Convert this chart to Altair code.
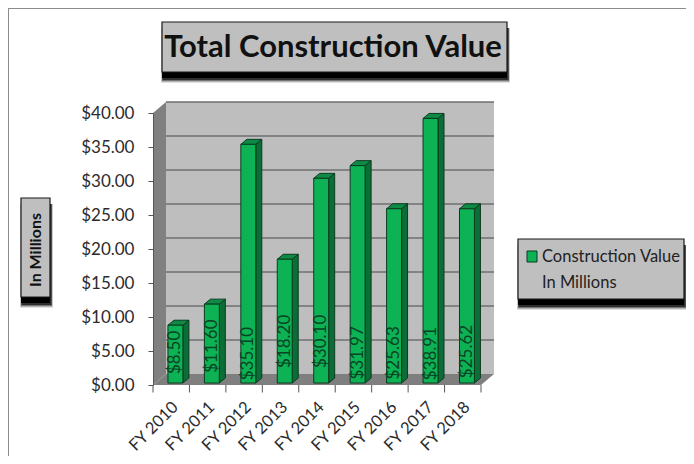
import altair as alt

categories = ["FY 2010", "FY 2011", "FY 2012", "FY 2013", "FY 2014", "FY 2015", "FY 2016", "FY 2017", "FY 2018"]
values = [8.50, 11.60, 35.10, 18.20, 30.10, 31.97, 25.63, 38.91, 25.62]
value_labels = ["$8.50", "$11.60", "$35.10", "$18.20", "$30.10", "$31.97", "$25.63", "$38.91", "$25.62"]
label_starts = [1.6, 1.8, 0.7, 2.5, 2.5, 0.8, 0.8, 0.7, 1.0]
y_ticks = [0, 5, 10, 15, 20, 25, 30, 35, 40]

FONT = "Lato"
W, H = 678, 448
# value-space depth of the 3D box and of each bar
DX, DY = 0.357, 1.62
BX, BW, BDX, BDY, BASE = 0.41, 0.41, 0.165, 0.735, 0.29

xs = alt.Scale(domain=[0, 9], range=[145, 473], nice=False, zero=False)
ys = alt.Scale(domain=[0, 40], range=[377, 105], nice=False, zero=False)


def X(f="x"):
    return alt.X(f"{f}:Q", scale=xs, axis=None)


def Y(f="y", axis=None):
    return alt.Y(f"{f}:Q", scale=ys, axis=axis)


def area(rows, fill, stroke=None, sw=1):
    kw = {"stroke": stroke, "strokeWidth": sw} if stroke else {}
    return alt.Chart(alt.Data(values=rows)).mark_area(
        orient="vertical", fill=fill, opacity=1, interpolate="linear", **kw
    ).encode(x=X(), y=Y(), y2=alt.Y2("y2:Q"), detail="i:N")


def box(x1, x2, y1, y2, fill, stroke=None, opacity=1.0, sw=1):
    kw = {"stroke": stroke, "strokeWidth": sw} if stroke else {}
    return alt.Chart(alt.Data(values=[{"a": 1}])).mark_rect(fill=fill, opacity=opacity, **kw).encode(
        x=alt.value(x1 - 8), x2=alt.value(x2 - 8), y=alt.value(y1 - 8), y2=alt.value(y2 - 8)
    )


def shadow_box(x1, x2, y1, y2, fill="#bfbfbf"):
    out = []
    for grow, op in [(4, 0.12), (3, 0.2), (2, 0.35), (1, 0.6)]:
        out.append(box(x1 + 1 - grow / 2, x2 + 1 + grow / 2, y1 + 6, y2 + 7 + grow, "#000000", opacity=op))
    out.append(box(x1, x2, y1, y2 + 6, "#000000"))
    out.append(box(x1, x2, y1, y2, fill, "#1a1a1a", sw=1.2))
    return out


def label(text, x, y, size, weight="normal", align="left", angle=0, color="#222222"):
    return alt.Chart(alt.Data(values=[{"t": text}])).mark_text(
        font=FONT, fontSize=size, fontWeight=weight, align=align, baseline="middle", angle=angle, color=color
    ).encode(x=alt.value(x - 8), y=alt.value(y - 8), text="t:N")


layers = []

# picture frame
layers.append(alt.Chart(alt.Data(values=[{"a": 1}])).mark_rule(color="#8c8c8c", strokeWidth=1).encode(
    x=alt.value(0.5), y=alt.value(0), y2=alt.value(H)))
layers.append(alt.Chart(alt.Data(values=[{"a": 1}])).mark_rule(color="#8c8c8c", strokeWidth=1).encode(
    x=alt.value(0), x2=alt.value(W), y=alt.value(0.5)))

# side wall, carrying the value axis
side_wall = [
    {"x": 0, "y": 40, "y2": 0},
    {"x": DX, "y": 40 + DY, "y2": DY},
]
y_axis = alt.Axis(
    values=y_ticks, format="$.2f", title=None, grid=False, tickSize=5, tickColor="#555555", domainColor="#555555",
    labelFont=FONT, labelFontSize=17, labelColor="#2b2b2b", labelPadding=14, offset=-145, zindex=1, labelFlush=False,
)
layers.append(
    alt.Chart(alt.Data(values=side_wall)).mark_area(orient="vertical", fill="#808080", opacity=1).encode(
        x=X(), y=Y(axis=y_axis), y2=alt.Y2("y2:Q")
    )
)

# back wall
layers.append(alt.Chart(alt.Data(values=[{"x": DX, "x2": 9 + DX, "y": DY, "y2": 40 + DY}])).mark_rect(fill="#bebebe").encode(
    x=X(), x2=alt.X2("x2:Q"), y=Y(), y2=alt.Y2("y2:Q")))

# gridlines on the back wall
layers.append(alt.Chart(alt.Data(values=[{"x": DX, "x2": 9 + DX, "y": t + DY} for t in y_ticks[1:]])).mark_rule(
    color="#6f6f6f", strokeWidth=1.4).encode(x=X(), x2=alt.X2("x2:Q"), y=Y()))

# floor
floor = [
    {"i": 0, "x": 0, "y": 0, "y2": 0},
    {"i": 0, "x": DX, "y": DY, "y2": 0},
    {"i": 0, "x": 9, "y": DY, "y2": 0},
    {"i": 0, "x": 9 + DX, "y": DY, "y2": DY},
]
layers.append(area(floor, "#7f7f7f"))

# category ticks
layers.append(alt.Chart(alt.Data(values=[{"x": i, "y": 0, "y2": -1.1} for i in range(10)])).mark_rule(
    color="#555555", strokeWidth=1).encode(x=X(), y=Y(), y2=alt.Y2("y2:Q")))

# bars: side face, top face, front face
side_rows, top_rows, front_rows, cat_rows, val_rows = [], [], [], [], []
for i, (c, v, t, s) in enumerate(zip(categories, values, value_labels, label_starts)):
    x1, x2 = i + BX, i + BX + BW
    top = v + BASE
    side_rows += [
        {"i": i, "x": x2, "y": top, "y2": BASE},
        {"i": i, "x": x2 + BDX, "y": top + BDY, "y2": BASE + BDY},
    ]
    top_rows += [
        {"i": i, "x": x1, "y": top, "y2": top},
        {"i": i, "x": x1 + BDX, "y": top + BDY, "y2": top},
        {"i": i, "x": x2, "y": top + BDY, "y2": top},
        {"i": i, "x": x2 + BDX, "y": top + BDY, "y2": top + BDY},
    ]
    front_rows.append({"x": x1, "x2": x2, "y": top, "y2": BASE})
    cat_rows.append({"x": i + 0.62, "y": -2.9, "t": c})
    val_rows.append({"x": i + BX + BW / 2, "y": s, "t": t})

layers.append(area(side_rows, "#0a6e36", "#0b3b20"))
layers.append(area(top_rows, "#0f8a45", "#0b3b20"))
layers.append(alt.Chart(alt.Data(values=front_rows)).mark_rect(fill="#0cb253", stroke="#0b3b20", strokeWidth=1).encode(
    x=X(), x2=alt.X2("x2:Q"), y=Y(), y2=alt.Y2("y2:Q")))

# value labels inside the bars
layers.append(alt.Chart(alt.Data(values=val_rows)).mark_text(
    font=FONT, fontSize=17, angle=270, align="left", baseline="middle", color="#0b4325"
).encode(x=X(), y=Y(), text="t:N"))

# rotated category labels
layers.append(alt.Chart(alt.Data(values=cat_rows)).mark_text(
    font=FONT, fontSize=16.5, angle=315, align="right", baseline="middle", color="#2b2b2b"
).encode(x=X(), y=Y(), text="t:N"))

# title box
layers += shadow_box(162, 507, 22, 72)
layers.append(label("Total Construction Value", 333, 48, 31, weight="bold", align="center", color="#111111"))

# axis caption box
layers += shadow_box(21, 50, 198, 297)
layers.append(label("In Millions", 36, 250, 16, weight="bold", align="center", angle=270, color="#111111"))

# legend box
layers += shadow_box(518, 684, 239, 299)
layers.append(box(527, 537, 251, 262, "#0cb253", "#0b3b20"))
layers.append(label("Construction Value", 542, 257, 16.5))
layers.append(label("In Millions", 542, 283, 16.5))

chart = alt.layer(*layers).properties(
    width=W, height=H, padding=0, autosize=alt.AutoSizeParams(type="none"), background="white"
).resolve_axis(y="independent").configure_view(stroke=None)

chart.save("out.html", embed_options={"renderer": "svg", "actions": False})
